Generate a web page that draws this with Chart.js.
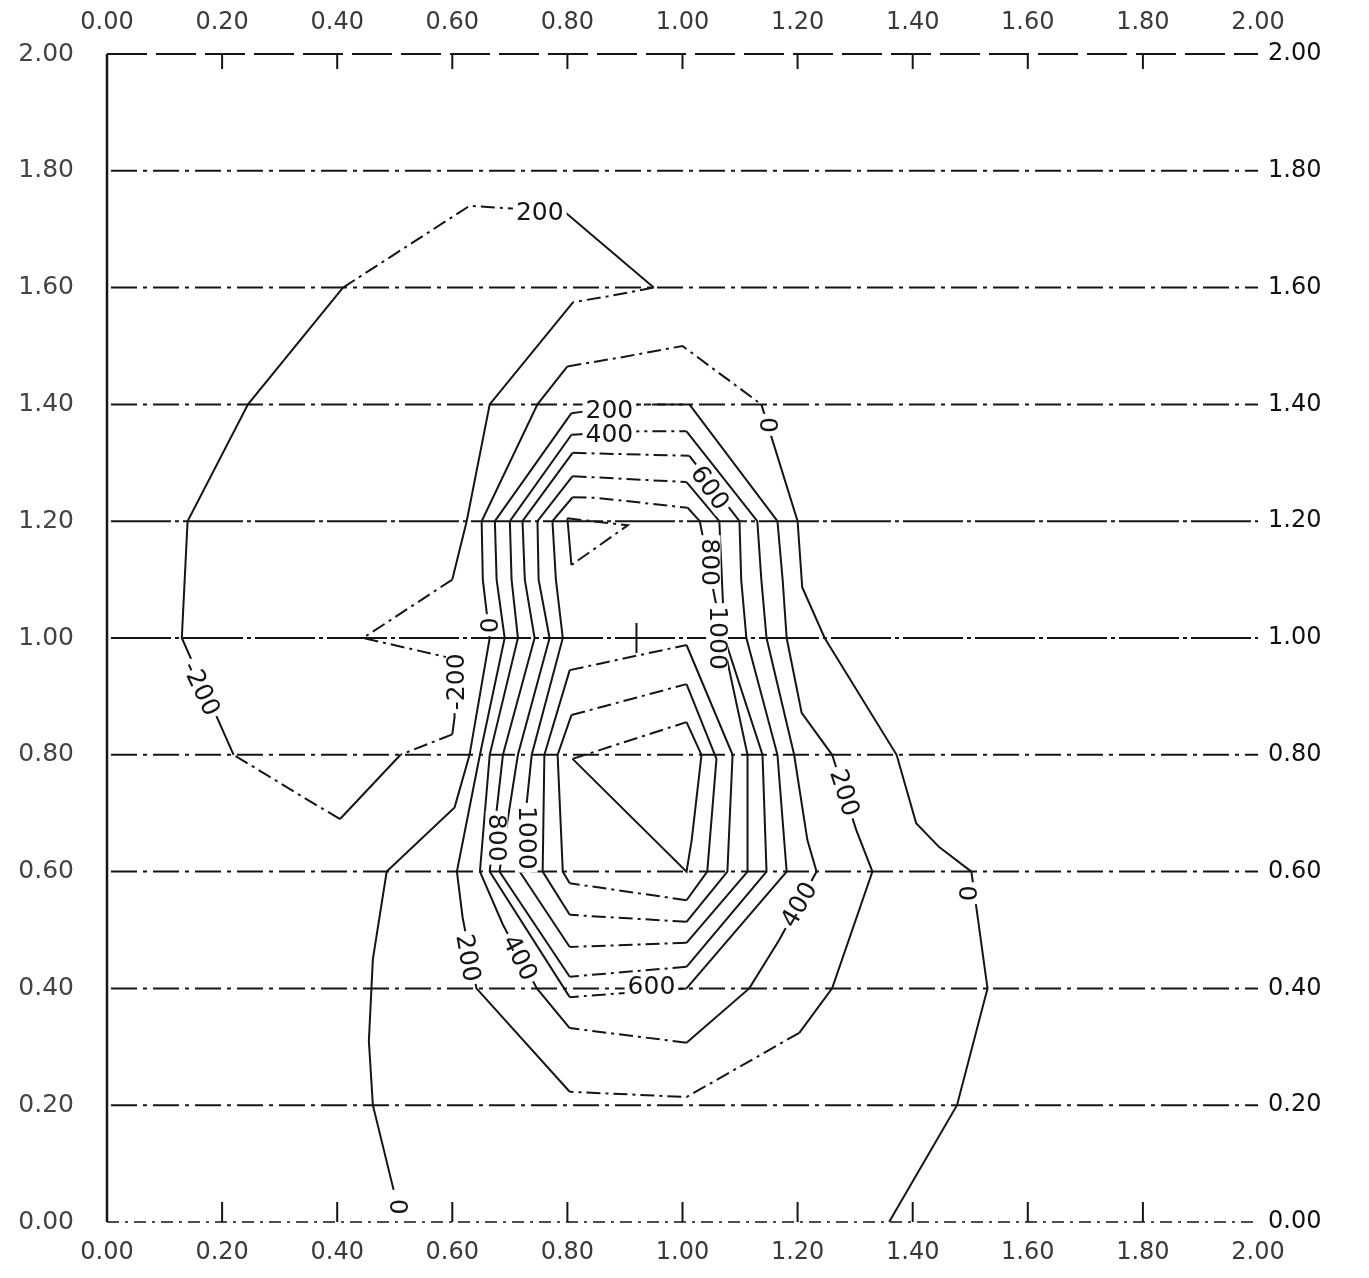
<!DOCTYPE html>
<html>
<head>
<meta charset="utf-8">
<script src="https://cdn.jsdelivr.net/npm/chart.js@4.4.1/dist/chart.umd.min.js"></script>
<style>
  html, body { margin: 0; padding: 0; background: #fff; }
  #wrap { width: 1369px; height: 1278px; }
</style>
</head>
<body>
<div id="wrap"><canvas id="chart" width="1369" height="1278"></canvas></div>
<script>
// Axis ticks and horizontal reference rows
const tickValues = [0, 0.2, 0.4, 0.6, 0.8, 1.0, 1.2, 1.4, 1.6, 1.8, 2.0];
const gridRows = [0.2, 0.4, 0.6, 0.8, 1.0, 1.2, 1.4, 1.6, 1.8];
const innerTicks = [0.2, 0.4, 0.6, 0.8, 1.0, 1.2, 1.4, 1.6, 1.8];

// Contour polylines, [x, y] vertices
const contourNeg200 = [
  [0.95,1.6],[0.87,1.585],[0.81,1.575],[0.665,1.4],[0.625,1.2],[0.6,1.1],[0.445,1.0],
  [0.6,0.965],[0.604,0.865],[0.6,0.835],[0.51,0.8],[0.405,0.69],[0.345,0.725],[0.22,0.8],
  [0.13,1.0],[0.14,1.2],[0.245,1.4],[0.41,1.6],[0.63,1.74],[0.795,1.73],[0.95,1.6]
];
const contour0 = [
  [0.498,0.055],[0.462,0.2],[0.455,0.31],[0.462,0.45],[0.486,0.6],[0.604,0.71],[0.63,0.8],
  [0.665,1.0],[0.653,1.1],[0.651,1.2],[0.748,1.4],[0.8,1.465],[0.89,1.48],[1.0,1.5],
  [1.137,1.4],[1.2,1.2],[1.208,1.087],[1.247,1.0],[1.372,0.8],[1.406,0.683],[1.446,0.642],
  [1.502,0.6],[1.53,0.4],[1.477,0.2],[1.359,0]
];
const contour200 = [
  [0.674,1.2],[0.807,1.385],[0.925,1.4],[1.012,1.4],[1.165,1.2],[1.174,1.1],[1.181,1.0],
  [1.207,0.872],[1.26,0.8],[1.302,0.671],[1.33,0.6],[1.26,0.4],[1.203,0.324],[1.007,0.214],
  [0.804,0.223],[0.642,0.4],[0.618,0.521],[0.608,0.6],[0.648,0.8],[0.691,1.0],[0.677,1.1],[0.674,1.2]
];
const contour400 = [
  [0.7,1.2],[0.807,1.348],[0.925,1.354],[1.007,1.354],[1.13,1.2],[1.137,1.1],[1.146,1.0],
  [1.194,0.8],[1.217,0.654],[1.233,0.6],[1.168,0.483],[1.116,0.4],[1.007,0.307],[0.804,0.332],
  [0.747,0.4],[0.688,0.509],[0.648,0.6],[0.665,0.8],[0.714,1.0],[0.703,1.1],[0.7,1.2]
];
const contour600 = [
  [0.722,1.2],[0.809,1.317],[1.012,1.312],[1.099,1.2],[1.102,1.1],[1.111,1.0],[1.165,0.8],
  [1.181,0.6],[1.007,0.4],[0.804,0.385],[0.665,0.6],[0.688,0.8],[0.743,1.0],[0.726,1.1],[0.722,1.2]
];
const contour800 = [
  [0.748,1.2],[0.809,1.277],[1.007,1.267],[1.064,1.2],[1.073,1.0],[1.139,0.8],[1.146,0.6],
  [1.007,0.437],[0.804,0.42],[0.682,0.6],[0.714,0.8],[0.769,1.0],[0.75,1.1],[0.748,1.2]
];
const contour1000 = [
  [0.774,1.2],[0.809,1.241],[0.851,1.24],[1.009,1.223],[1.03,1.2],[1.05,1.1],[1.075,0.974],
  [1.113,0.8],[1.113,0.6],[1.007,0.478],[0.804,0.471],[0.717,0.6],[0.738,0.8],[0.792,1.0],
  [0.78,1.1],[0.774,1.2]
];
const contourUpperPeak = [[0.8,1.205],[0.905,1.193],[0.807,1.125],[0.8,1.205]];
const contourInnerA = [
  [0.804,0.945],[1.007,0.988],[1.087,0.8],[1.078,0.6],[1.007,0.514],[0.804,0.526],
  [0.757,0.6],[0.76,0.8],[0.804,0.945]
];
const contourInnerB = [
  [0.807,0.868],[1.007,0.921],[1.059,0.793],[1.043,0.6],[1.007,0.551],[0.804,0.58],
  [0.792,0.6],[0.783,0.8],[0.807,0.868]
];
const contourInnerC = [
  [0.809,0.793],[0.856,0.808],[1.007,0.856],[1.033,0.8],[1.016,0.654],[1.007,0.6],[0.809,0.793]
];
const centreMark = [[0.92, 1.0]];

// Contour level labels: text, anchor [x, y], rotation in degrees
const contourLabels = [
  { text: '200',  at: [0.752, 1.728], angle: 0 },
  { text: '200',  at: [0.873, 1.389], angle: 0 },
  { text: '400',  at: [0.873, 1.349], angle: 0 },
  { text: '600',  at: [1.047, 1.257], angle: 55 },
  { text: '0',    at: [1.148, 1.365], angle: 90 },
  { text: '0',    at: [0.661, 1.022], angle: 90 },
  { text: '-200', at: [0.608, 0.925], angle: -90 },
  { text: '-200', at: [0.163, 0.913], angle: 65 },
  { text: '800',  at: [1.047, 1.13],  angle: 90 },
  { text: '1000', at: [1.06, 1.0],    angle: 90 },
  { text: '200',  at: [1.281, 0.735], angle: 72 },
  { text: '0',    at: [1.493, 0.563], angle: 90 },
  { text: '800',  at: [0.677, 0.658], angle: 90 },
  { text: '1000', at: [0.729, 0.658], angle: 90 },
  { text: '200',  at: [0.627, 0.452], angle: 80 },
  { text: '400',  at: [0.717, 0.452], angle: 63 },
  { text: '400',  at: [1.203, 0.543], angle: -60 },
  { text: '600',  at: [0.946, 0.404], angle: 0 },
  { text: '0',    at: [0.505, 0.026], angle: 90 }
];

const INK = '#151515';
const DASH_DOT = [14, 5, 3, 5];
const toPoints = arr => arr.map(p => ({ x: p[0], y: p[1] }));

function contourSet(label, arr) {
  return {
    label,
    data: toPoints(arr),
    showLine: true,
    borderColor: INK,
    borderWidth: 2,
    pointRadius: 0,
    tension: 0,
    fill: false,
    segment: {
      // shallow strokes come out broken, steep strokes stay solid
      borderDash: ctx => {
        const dx = Math.abs(ctx.p1.x - ctx.p0.x);
        const dy = Math.abs(ctx.p1.y - ctx.p0.y);
        return dy < 0.75 * dx ? DASH_DOT : undefined;
      }
    }
  };
}

const datasets = [
  contourSet('-200', contourNeg200),
  contourSet('0', contour0),
  contourSet('200', contour200),
  contourSet('400', contour400),
  contourSet('600', contour600),
  contourSet('800', contour800),
  contourSet('1000', contour1000),
  contourSet('upper peak', contourUpperPeak),
  contourSet('inner a', contourInnerA),
  contourSet('inner b', contourInnerB),
  contourSet('inner c', contourInnerC),
  {
    label: 'centre',
    data: toPoints(centreMark),
    showLine: false,
    pointStyle: 'cross',
    pointRadius: 15,
    borderColor: INK,
    borderWidth: 2
  }
];

// Frame, reference rows and tick marks
const framePlugin = {
  id: 'frame',
  beforeDatasetsDraw(chart) {
    const { ctx, scales: { x, y } } = chart;
    const x0 = x.getPixelForValue(0), x1 = x.getPixelForValue(2);
    const yTop = y.getPixelForValue(2), yBot = y.getPixelForValue(0);
    ctx.save();
    ctx.strokeStyle = INK;
    ctx.lineCap = 'butt';

    // reference rows
    gridRows.forEach(v => {
      const py = y.getPixelForValue(v);
      ctx.lineWidth = 2;
      ctx.setLineDash(v === 1.0 || v === 1.2 ? [60, 4, 4, 4] : [26, 6, 4, 6]);
      ctx.beginPath();
      ctx.moveTo(x0 + 4, py);
      ctx.lineTo(x1, py);
      ctx.stroke();
    });

    // top border
    ctx.setLineDash([40, 9]);
    ctx.lineWidth = 2;
    ctx.beginPath();
    ctx.moveTo(x0, yTop);
    ctx.lineTo(x1, yTop);
    ctx.stroke();

    // bottom border
    ctx.setLineDash([12, 6, 3, 6]);
    ctx.lineWidth = 1.6;
    ctx.beginPath();
    ctx.moveTo(x0, yBot);
    ctx.lineTo(x1, yBot);
    ctx.stroke();

    // left border
    ctx.setLineDash([]);
    ctx.lineWidth = 2.5;
    ctx.beginPath();
    ctx.moveTo(x0, yTop);
    ctx.lineTo(x0, yBot);
    ctx.stroke();

    // tick marks, pointing inward
    ctx.lineWidth = 2;
    innerTicks.forEach(v => {
      const px = x.getPixelForValue(v);
      ctx.beginPath();
      ctx.moveTo(px, yTop);
      ctx.lineTo(px, yTop + 15);
      ctx.moveTo(px, yBot);
      ctx.lineTo(px, yBot - 20);
      ctx.stroke();
    });
    ctx.restore();
  }
};

// Level labels set into the contour strokes
const labelPlugin = {
  id: 'levelLabels',
  afterDatasetsDraw(chart) {
    const { ctx, scales: { x, y } } = chart;
    ctx.save();
    ctx.font = '25px "DejaVu Sans"';
    ctx.textAlign = 'center';
    ctx.textBaseline = 'middle';
    contourLabels.forEach(l => {
      const px = x.getPixelForValue(l.at[0]);
      const py = y.getPixelForValue(l.at[1]);
      const w = ctx.measureText(l.text).width;
      ctx.save();
      ctx.translate(px, py);
      ctx.rotate(l.angle * Math.PI / 180);
      ctx.fillStyle = '#fff';
      ctx.fillRect(-w / 2 - 3, -11, w + 6, 22);
      ctx.fillStyle = INK;
      ctx.fillText(l.text, 0, 1);
      ctx.restore();
    });
    ctx.restore();
  }
};

const tickFont = { family: 'DejaVu Sans', size: 24 };
const sideFont = { family: 'DejaVu Sans', size: 25 };
const fixedTicks = scale => { scale.ticks = tickValues.map(v => ({ value: v })); };
const fmt = v => Number(v).toFixed(2);

function axis(pos, axisName, size, padding, color, font) {
  return {
    type: 'linear',
    axis: axisName,
    position: pos,
    min: 0,
    max: 2,
    grid: { display: false, drawTicks: false },
    border: { display: false },
    afterBuildTicks: fixedTicks,
    afterFit: s => { if (axisName === 'x') s.height = size; else s.width = size; },
    ticks: { callback: fmt, font, color, padding, maxRotation: 0, autoSkip: false }
  };
}

new Chart(document.getElementById('chart'), {
  type: 'scatter',
  data: { datasets },
  options: {
    responsive: false,
    animation: false,
    devicePixelRatio: 1,
    layout: { padding: 0 },
    plugins: { legend: { display: false }, tooltip: { enabled: false } },
    scales: {
      x: axis('bottom', 'x', 56, 16, '#3a3a3a', tickFont),
      xTop: axis('top', 'x', 54, 17, '#3a3a3a', tickFont),
      y: axis('left', 'y', 107, 33, '#444', sideFont),
      yRight: axis('right', 'y', 111, 10, '#111', tickFont)
    }
  },
  plugins: [framePlugin, labelPlugin]
});
</script>
</body>
</html>
